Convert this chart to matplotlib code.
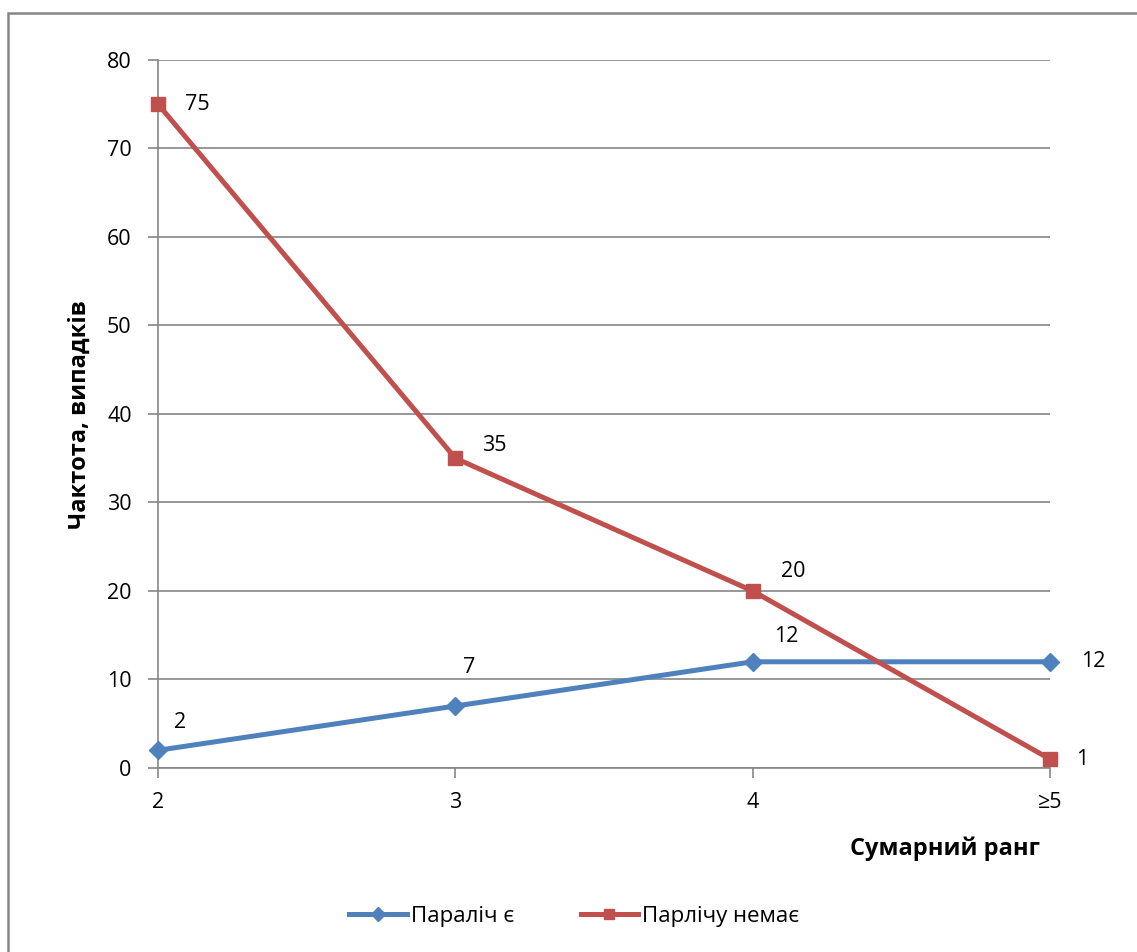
import matplotlib.pyplot as plt
from matplotlib.patches import Rectangle

plt.rcParams['font.family'] = ['Open Sans', 'DejaVu Sans']

categories = ["2", "3", "4", "≥5"]
paralysis_yes = [2, 7, 12, 12]
paralysis_no = [75, 35, 20, 1]

blue = "#4F81BD"
red = "#C0504D"
grid_gray = "#868686"

fig = plt.figure(figsize=(11.37, 9.52), dpi=100)
ax = fig.add_axes([0.139, 0.1933, 0.7845, 0.7437])

x = list(range(len(categories)))
ax.plot(x, paralysis_yes, color=blue, lw=3.6, marker="D", ms=9,
        label="Параліч є", zorder=3, clip_on=False)
ax.plot(x, paralysis_no, color=red, lw=3.6, marker="s", ms=9.5,
        label="Парлічу немає", zorder=4, clip_on=False)

# data labels with Excel-like offsets (in points)
yes_offsets = [(16, 20), (10, 28), (24, 18), (31, 0)]
no_offsets = [(28, 0), (28, 9), (29, 14), (23, 0)]
for xi, v, off in zip(x, paralysis_yes, yes_offsets):
    ax.annotate(str(v), (xi, v), xytext=off, textcoords="offset points",
                ha="center", va="center", fontsize=15.5, color="black")
for xi, v, off in zip(x, paralysis_no, no_offsets):
    ax.annotate(str(v), (xi, v), xytext=off, textcoords="offset points",
                ha="center", va="center", fontsize=15.5, color="black")

ax.set_xlim(0, 3)
ax.set_ylim(0, 80)
ax.set_yticks(range(0, 81, 10))
ax.set_xticks(x)
ax.set_xticklabels(categories)
ax.yaxis.grid(True, color=grid_gray, lw=1.2)
ax.set_axisbelow(True)
for s in ["top", "right"]:
    ax.spines[s].set_visible(False)
for s in ["left", "bottom"]:
    ax.spines[s].set_color(grid_gray)
    ax.spines[s].set_linewidth(1.2)
ax.tick_params(axis="both", color=grid_gray, width=1.2, length=7,
               labelsize=15.5)
ax.tick_params(axis="y", pad=12)
ax.tick_params(axis="x", pad=10)

fig.text(0.07, 0.564, "Чактота, випадків", rotation=90, ha="center",
         va="center", fontsize=17, fontweight="bold")
fig.text(0.915, 0.108, "Сумарний ранг", ha="right", va="center",
         fontsize=17, fontweight="bold")

fig.legend(loc="center", bbox_to_anchor=(0.505, 0.037), ncol=2, frameon=False,
           fontsize=16, handlelength=2.6, columnspacing=3.0, handletextpad=0.15,
           markerscale=0.8)

# outer chart border (runs off the right and bottom edges)
fig.patches.append(Rectangle((0.007, -0.05), 1.1, 1.036, transform=fig.transFigure,
                             fill=False, edgecolor=grid_gray, lw=1.8))

fig.savefig("out.png", dpi=100)
